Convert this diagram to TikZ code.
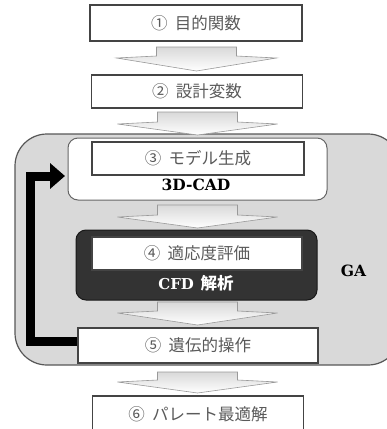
\documentclass[tikz,border=0pt]{standalone}
\usepackage{fontspec}
\newfontfamily\jp{Noto Sans CJK JP}
\newfontfamily\lat{DejaVu Serif}
\usetikzlibrary{arrows.meta,calc}
\definecolor{boxline}{HTML}{444444}
\definecolor{txtgray}{HTML}{5A5A5A}
\definecolor{gafill}{HTML}{D9D9D9}
\definecolor{cfdfill}{HTML}{333333}
\tikzset{
  stepbox/.style={draw=boxline,line width=1.6pt,fill=white,font=\jp\fontsize{16.5}{16.5}\selectfont,text=txtgray,inner sep=0pt},
  boldlabel/.style={font=\lat\bfseries\fontsize{15.5}{15.5}\selectfont},
  fatarr/.style={draw=gray!80,line width=0.6pt,top color=gray!30,bottom color=white,shading angle=0},
}
% x center, stem top, head base, tip
\newcommand\fatarrow[4]{%
  \path[fatarr] (#1-40,#2) -- (#1+40,#2) -- (#1+40,#3-2) -- (#1+80,#3) -- (#1,#4) -- (#1-80,#3) -- (#1-40,#3-2) -- cycle;}
\begin{document}
\begin{tikzpicture}[x=1pt,y=-1pt]
\useasboundingbox (0,0) rectangle (387,429);
% GA region
\draw[fill=gafill,draw=boxline!90,line width=1.2pt,rounded corners=32pt] (15,134) rectangle (400,365);
\node[boldlabel] (ga) at (353.5,271) {GA};
% CAD region
\draw[fill=white,draw=gray!80!black,line width=1pt,rounded corners=10pt] (68,138) rectangle (327,200);
\node[boldlabel] (cad) at (196,185) {3D-CAD};
% CFD region
\draw[fill=cfdfill,draw=black!90,line width=1pt,rounded corners=10pt] (76,230) rectangle (317,300);
\node[font=\jp\bfseries\fontsize{16.5}{16.5}\selectfont,text=white] (cfd) at (196,283.5) {{\lat\bfseries\fontsize{15}{15}\selectfont CFD}\hspace{0.4em}解析};
% step boxes
\node[stepbox,minimum width=212pt,minimum height=36pt] (b1) at (196,23) {①\hspace{0.45em}目的関数};
\node[stepbox,minimum width=211pt,minimum height=33pt] (b2) at (197,91.5) {②\hspace{0.45em}設計変数};
\node[stepbox,minimum width=212pt,minimum height=33pt] (b3) at (198,158.5) {③\hspace{0.45em}モデル生成};
\node[stepbox,minimum width=210pt,minimum height=33pt] (b4) at (197,253.5) {④\hspace{0.45em}適応度評価};
\node[stepbox,minimum width=240pt,minimum height=35pt] (b5) at (198,345.5) {⑤\hspace{0.45em}遺伝的操作};
\node[stepbox,minimum width=211pt,minimum height=36pt] (b6) at (198,414) {⑥\hspace{0.45em}パレート最適解};
% fat arrows
\fatarrow{196.5}{47}{58}{71}
\fatarrow{197.5}{112}{124}{135}
\fatarrow{197.5}{205}{217}{228}
\fatarrow{197.5}{302}{313}{325}
\fatarrow{197.5}{372}{382}{393}
% feedback arrow
\coordinate (fbstart) at ([yshift=4pt]b5.west);
\coordinate (fbend) at (65,176);
\draw[line width=9pt,-{Triangle[length=15pt,width=25pt]}] (fbstart) -| (30.5,176) -- (fbend);
\end{tikzpicture}
\end{document}
